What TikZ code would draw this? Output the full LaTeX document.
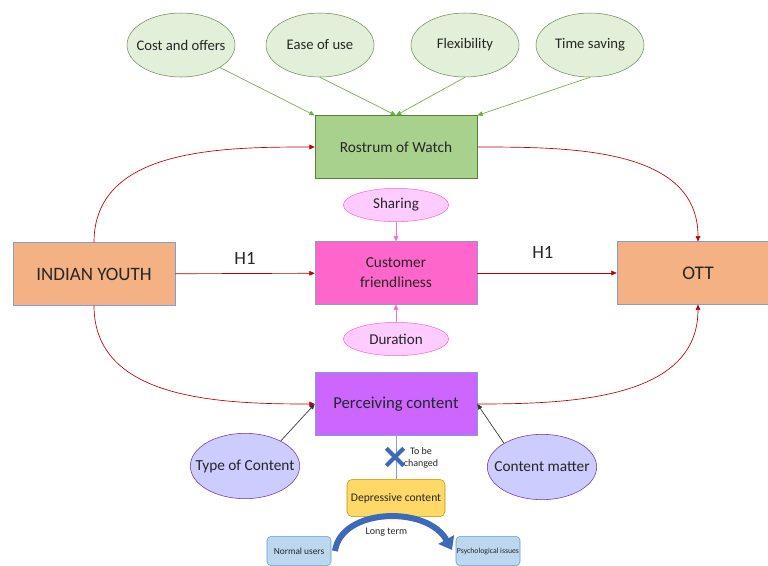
\documentclass[tikz,border=0pt]{standalone}
\usepackage{fontspec}
\setmainfont{Carlito}
\usetikzlibrary{shapes.geometric,shapes.misc,arrows.meta}
\definecolor{greenfill}{HTML}{E2F0D9}
\definecolor{greenedge}{HTML}{6E8B5B}
\definecolor{greenarrow}{HTML}{70AD47}
\definecolor{rostrumfill}{HTML}{A9D18E}
\definecolor{rostrumedge}{HTML}{548235}
\definecolor{pinkfill}{HTML}{FFCCFF}
\definecolor{pinkedge}{HTML}{FF66CC}
\definecolor{custfill}{HTML}{FF66CC}
\definecolor{boxedge}{HTML}{7F9FD6}
\definecolor{percfill}{HTML}{CC66FF}
\definecolor{purplefill}{HTML}{CCCCFF}
\definecolor{purpleedge}{HTML}{7030A0}
\definecolor{orangefill}{HTML}{F4B183}
\definecolor{arrowred}{HTML}{C00000}
\definecolor{goldfill}{HTML}{FFD966}
\definecolor{goldedge}{HTML}{BF9000}
\definecolor{bluefill}{HTML}{BDD7EE}
\definecolor{blueedge}{HTML}{5B9BD5}
\definecolor{darkblue}{HTML}{3C6AB8}
\definecolor{textgrey}{HTML}{262626}
\begin{document}
\begin{tikzpicture}
[x=0.75pt,y=-0.75pt,text=textgrey,
  ellgreen/.style={shape=ellipse,draw=greenedge,fill=greenfill,inner ysep=0pt,inner xsep=-12pt,
    minimum width=81pt,minimum height=48pt,font=\fontsize{11}{13}\selectfont},
  mainbox/.style={shape=rectangle,draw=boxedge,inner sep=0pt,align=center,
    minimum width=121.5pt,minimum height=47pt,font=\fontsize{11.5}{15}\selectfont},
  ellpink/.style={shape=ellipse,draw=pinkedge,fill=pinkfill,inner ysep=0pt,inner xsep=-12pt,
    minimum width=79pt,minimum height=25pt,font=\fontsize{11.3}{13}\selectfont},
  ellpurple/.style={shape=ellipse,draw=purpleedge,fill=purplefill,inner ysep=0pt,inner xsep=-12pt,
    minimum width=82pt,minimum height=49pt,font=\fontsize{11.5}{13}\selectfont},
  smallbox/.style={shape=rectangle,rounded corners=3pt,draw=blueedge,fill=bluefill,
    inner sep=0pt,minimum width=48pt,minimum height=22pt},
  greenline/.style={-{Triangle[length=4pt,width=3.5pt]},draw=greenarrow,line width=0.5pt},
  pinkline/.style={-{Triangle[length=4pt,width=3.5pt]},draw=pinkedge,line width=0.5pt},
  redline/.style={-{Triangle[length=4pt,width=3.5pt]},draw=arrowred,line width=0.5pt},
  blackline/.style={-{Triangle[length=4pt,width=3.5pt]},draw=black!80,line width=0.5pt}]
\useasboundingbox (0,0) rectangle (768,565);
%% factors on top
\foreach \nodename/\x/\factor in {
  cost/181/Cost and offers, ease/320/Ease of use, flex/465/Flexibility, time/590/Time saving}
{
  \node (\nodename) at (\x,45) [ellgreen] {\factor};
}
%% main boxes
\node (rostrum) at (396,147) [mainbox,fill=rostrumfill,draw=rostrumedge] {Rostrum of Watch};
\node (youth) at (94,274) [mainbox,fill=orangefill,font=\fontsize{14.2}{16}\selectfont] {INDIAN YOUTH};
\node (cust) at (396,273) [mainbox,fill=custfill] {Customer\\friendliness};
\node (ott) at (698,273) [mainbox,fill=orangefill,font=\fontsize{14.5}{16}\selectfont] {OTT};
\node (perc) at (396,404) [mainbox,fill=percfill,font=\fontsize{12.5}{15}\selectfont] {Perceiving content};
\node (sharing) at (396,205) [ellpink] {Sharing};
\node (duration) at (396,339) [ellpink] {Duration};
\node (typec) at (245,466) [ellpurple] {Type of Content};
\node (matter) at (542,467) [ellpurple] {Content matter};
%% lower part
\node (depr) at (396,498) [shape=rectangle,rounded corners=4pt,draw=goldedge,fill=goldfill,
  minimum width=73.5pt,minimum height=28pt,inner sep=0pt,font=\fontsize{8.7}{10}\selectfont] {Depressive content};
\node (normal) at (299,551) [smallbox,font=\fontsize{7}{8}\selectfont] {Normal users};
\node (psych) at (488,551) [smallbox,font=\fontsize{5.8}{7}\selectfont] {Psychological issues};
\node (change) at (421,458) [align=center,font=\fontsize{7.5}{9}\selectfont] {To be\\changed};
\coordinate (ltstart) at (335,551);
\coordinate (ltend) at (452,550);
%% edges or lines
\foreach \startnode/\endnode in {
  cost.-30/rostrum.north west, ease.south/rostrum.north, flex.south/rostrum.north, time.south/rostrum.north east}
{
  \draw[greenline] (\startnode) -- (\endnode);
}
\draw[pinkline] (sharing) -- (cust);
\draw[pinkline] (duration) -- (cust);
\draw[redline] (youth) -- node[above=3pt,font=\fontsize{14}{16}\selectfont] {H1} (cust);
\draw[redline] (cust) -- node[above=7pt,pos=0.47,font=\fontsize{14}{16}\selectfont] {H1} (ott);
\path
\foreach \startnode/\endnode/\outangle/\inangle in {
  youth.north/rostrum.west/90/180, rostrum.east/ott.north/0/90,
  youth.south/perc.west/-90/180, perc.east/ott.south/0/-90}
{
  (\startnode) edge[redline,out=\outangle,in=\inangle] (\endnode)
};
\draw[blackline] (typec.35) -- (perc.west);
\draw[blackline] (matter.148) -- (perc.east);
\draw[draw=boxedge,line width=0.6pt] (perc) -- (depr);
\node (xmark) at (395,457) [shape=cross out,draw=darkblue,line width=3pt,minimum size=10pt,inner sep=0pt] {};
\draw[darkblue,line width=4.5pt,-{Triangle[length=9pt,width=13pt]}]
  (ltstart) .. controls (341,508) and (427,505) .. (ltend)
  node[pos=0.5,below=2pt,text=textgrey,font=\fontsize{7.5}{9}\selectfont] {Long term};
\end{tikzpicture}
\end{document}
